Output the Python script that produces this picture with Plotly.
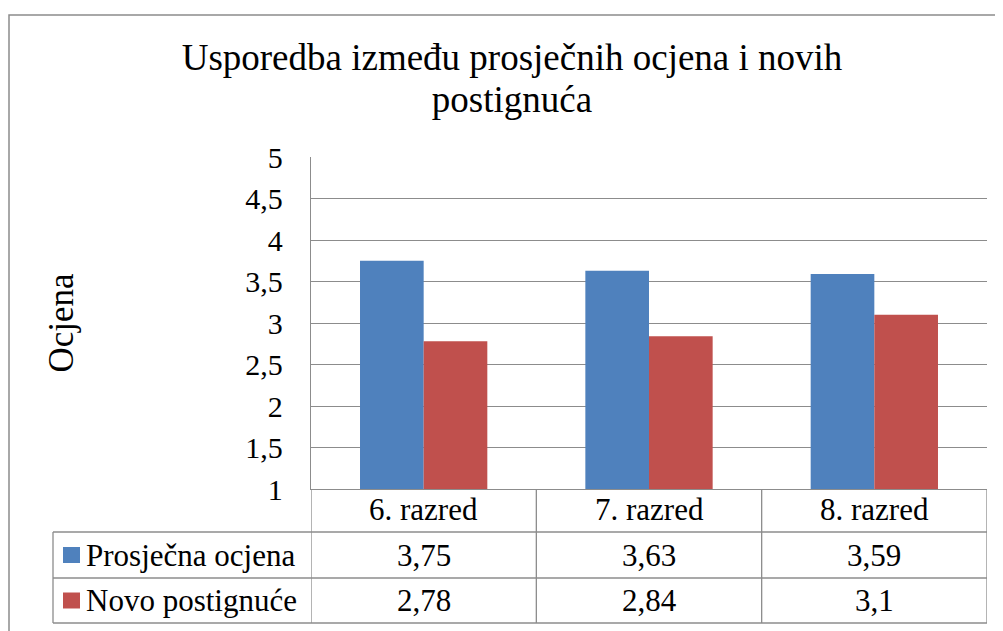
import plotly.graph_objects as go

# data
categories = ["6. razred", "7. razred", "8. razred"]
series_names = ["Prosječna ocjena", "Novo postignuće"]
prosjecna = [3.75, 3.63, 3.59]
novo = [2.78, 2.84, 3.1]
title_lines = ["Usporedba između prosječnih ocjena i novih", "postignuća"]
y_title = "Ocjena"

colors = ["#4F81BD", "#C0504D"]
grey = "#8c8c8c"
font = "Liberation Serif"

# page body has an 8px margin, so the figure is placed 8px in
OFF = 8
W, H = 1003 - OFF, 631 - OFF
ml, mr, mt, mb = 311 - OFF, 16, 157 - OFF, 142
pw, ph = W - ml - mr, H - mt - mb


# helpers: page pixel position -> paper coords
def px_x(p):
    return (p - OFF - ml) / pw


def px_y(p):
    return (H - mb - (p - OFF)) / ph


def fmt(v):
    return str(v).replace(".", ",")


fig = go.Figure()
for name, vals, c in zip(series_names, [prosjecna, novo], colors):
    fig.add_trace(go.Bar(x=categories, y=vals, name=name,
                         marker=dict(color=c, line=dict(width=0))))

# data table below the plot
row_tops = [489, 532, 578, 623]
shapes = []
# outer chart border (left edge as far left as the page allows)
shapes.append(dict(type="rect", xref="paper", yref="paper",
                   x0=px_x(OFF + 1), x1=px_x(1015), y0=px_y(15), y1=px_y(645),
                   line=dict(color=grey, width=1.5)))
# horizontal table lines
for p in row_tops[1:]:
    shapes.append(dict(type="line", xref="paper", yref="paper",
                       x0=px_x(53), x1=1, y0=px_y(p), y1=px_y(p),
                       line=dict(color=grey, width=1.3)))
# vertical lines at category boundaries
for i in range(len(categories) + 1):
    shapes.append(dict(type="line", xref="x", yref="paper",
                       x0=i - 0.5, x1=i - 0.5, y0=0, y1=px_y(row_tops[-1]),
                       line=dict(color=grey, width=1.3)))
# left edge of legend column
shapes.append(dict(type="line", xref="paper", yref="paper",
                   x0=px_x(53), x1=px_x(53), y0=px_y(row_tops[1]), y1=px_y(row_tops[-1]),
                   line=dict(color=grey, width=1.3)))

annotations = []
tfont = dict(family=font, size=31, color="black")
# header row: category names
for c in categories:
    annotations.append(dict(x=c, xref="x", y=px_y((row_tops[0] + row_tops[1]) / 2 - 1),
                            yref="paper", text=c, showarrow=False, font=tfont,
                            xanchor="center", yanchor="middle"))
for r, (name, vals, c) in enumerate(zip(series_names, [prosjecna, novo], colors)):
    top, bot = row_tops[r + 1], row_tops[r + 2]
    mid = (top + bot) / 2
    # legend key square
    shapes.append(dict(type="rect", xref="paper", yref="paper",
                       x0=px_x(63), x1=px_x(80), y0=px_y(mid - 8), y1=px_y(mid + 8),
                       fillcolor=c, line=dict(width=0)))
    annotations.append(dict(x=px_x(84), xref="paper", y=px_y(mid), yref="paper",
                            text=name, showarrow=False, font=tfont,
                            xanchor="left", yanchor="middle"))
    for cat, v in zip(categories, vals):
        annotations.append(dict(x=cat, xref="x", y=px_y(mid), yref="paper",
                                text=fmt(v), showarrow=False, font=tfont,
                                xanchor="center", yanchor="middle"))

# title: base size sets line spacing, span sets glyph size
title_text = "<br>".join("<span style='font-size:37px'>%s</span>" % t for t in title_lines)

fig.update_layout(
    width=W, height=H,
    margin=dict(l=ml, r=mr, t=mt, b=mb, autoexpand=False),
    paper_bgcolor="white", plot_bgcolor="white",
    separators=",.",
    showlegend=False,
    barmode="group", bargap=0.435, bargroupgap=0,
    font=dict(family=font, color="black"),
    title=dict(text=title_text, x=(512 - OFF) / W, xanchor="center",
               y=1 - 62 / H, yanchor="top", yref="container",
               font=dict(family=font, size=32.3, color="black")),
    xaxis=dict(range=[-0.5, 2.5], showticklabels=False, ticks="",
               showline=True, linecolor=grey, linewidth=1.3, showgrid=False,
               zeroline=False, fixedrange=True),
    yaxis=dict(range=[1, 5], dtick=0.5, showline=True, linecolor=grey, linewidth=1.3,
               showgrid=True, gridcolor=grey, gridwidth=1.3, zeroline=False,
               ticks="", ticklabelstandoff=21,
               tickfont=dict(family=font, size=30, color="black"),
               title=dict(text=y_title, standoff=161,
                          font=dict(family=font, size=35, color="black")),
               automargin=False),
    shapes=shapes,
    annotations=annotations,
)

fig.write_html("out.html")
